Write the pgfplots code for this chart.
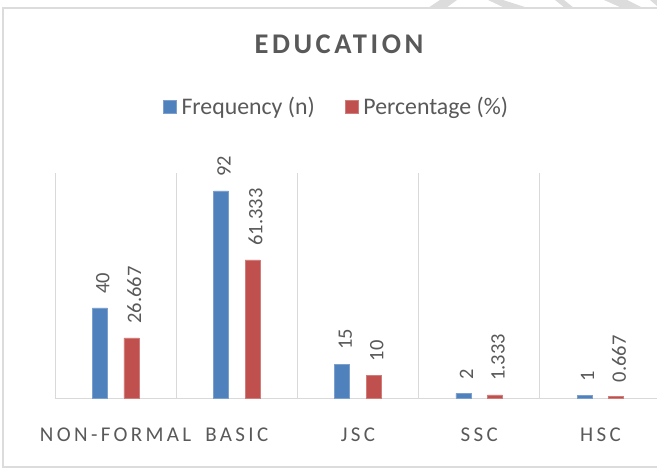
\documentclass[border=0pt]{standalone}
\usepackage{pgfplots}
\pgfplotsset{compat=1.18}
\usepackage{fontspec}
\setmainfont{Carlito}
\newfontfamily\titlefont[LetterSpace=12.5]{Carlito}
\newfontfamily\tickfont[LetterSpace=16]{Carlito}
\definecolor{cblue}{HTML}{4F81BD}
\definecolor{cred}{HTML}{C0504D}
\definecolor{ctext}{HTML}{595959}
\definecolor{cgrid}{HTML}{D9D9D9}
\definecolor{cframe}{HTML}{DCDCDC}
\begin{document}
\begin{tikzpicture}[x=1pt,y=1pt]
\useasboundingbox (0pt,0pt) rectangle (657pt,469pt);
% page watermark stripes at the top
\fill[cframe] (440,469) -- (457,469) -- (446,461) -- (428,461) -- cycle;
\fill[cframe] (488,469) -- (503,469) -- (528,461) -- (505,461) -- cycle;
\fill[cframe] (555,469) -- (564,469) -- (574,461) -- (565,461) -- cycle;
\fill[cframe] (604,469) -- (627,469) -- (643,461) -- (622,461) -- cycle;
\fill[cframe] (650,469) -- (657,469) -- (657,463) -- cycle;
% chart frame
\draw[cframe, line width=2pt] (3,2) rectangle (700,461);
\node[anchor=base, font=\titlefont\bfseries\fontsize{28.5}{32}\selectfont, text=ctext] at (339,415) {EDUCATION};
\begin{axis}[
  at={(55pt,71pt)}, anchor=south west,
  scale only axis, width=606pt, height=225pt,
  clip=false,
  ybar=16.5pt, bar width=15pt,
  xmin=-0.5, xmax=4.5, ymin=0, ymax=100,
  axis x line*=bottom, axis y line=none,
  x axis line style={draw=cgrid, line width=0.9pt},
  xtick={0,1,2,3,4},
  xticklabels={NON-FORMAL, BASIC, JSC, SSC, HSC},
  major tick length=0pt, minor tick length=0pt,
  minor xtick={-0.5,0.5,1.5,2.5,3.5,4.5},
  xminorgrids, minor grid style={draw=cgrid, line width=0.9pt},
  ytick=\empty,
  xticklabel style={font=\tickfont\fontsize{21}{24}\selectfont, text=ctext, anchor=base, yshift=-44pt},
  point meta=explicit symbolic,
  nodes near coords,
  every node near coord/.append style={font=\fontsize{20.5}{24}\selectfont, text=ctext, xshift=3pt, rotate=90, anchor=west, inner xsep=14pt},
  legend style={at={(axis description cs:0.4645,1.2956)}, anchor=center, draw=none, fill=none,
    legend columns=2, font=\fontsize{23.8}{28}\selectfont, text=ctext,
    /tikz/every odd column/.append style={column sep=3pt},
    /tikz/every even column/.append style={column sep=28pt}},
  legend image code/.code={\fill[#1] (0pt,-6.5pt) rectangle (13pt,6.5pt);},
]
\addplot[fill=cblue, draw=cblue!75!white, line width=0.6pt] coordinates {(0,40) [40] (1,92) [92] (2,15) [15] (3,2) [2] (4,1) [1]};
\addplot[fill=cred, draw=cred!75!white, line width=0.6pt] coordinates {(0,26.667) [26.667] (1,61.333) [61.333] (2,10) [10] (3,1.333) [1.333] (4,0.667) [0.667]};
\legend{Frequency (n), Percentage (\%)}
\end{axis}
\end{tikzpicture}
\end{document}
